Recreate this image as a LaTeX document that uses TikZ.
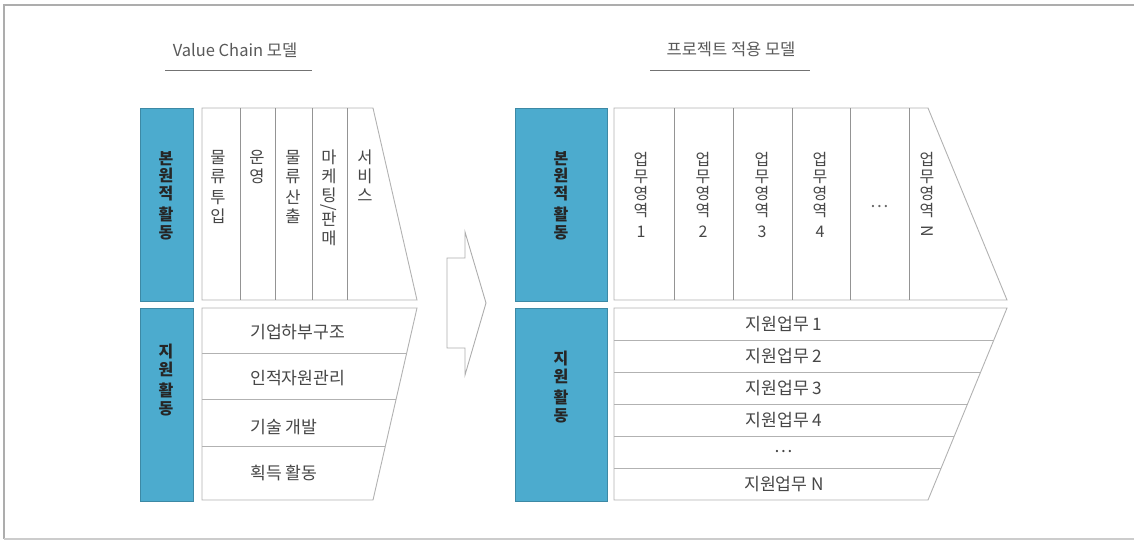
\documentclass[tikz,border=0pt]{standalone}
\usepackage{fontspec}
\usepackage{graphicx}
\setmainfont{Noto Sans CJK KR}
\definecolor{vcblue}{RGB}{76,171,206}

\begin{document}
\begin{tikzpicture}[
    x=1pt, y=-1pt,
    frame/.style     = {line width=2pt, black!32},
    band/.style      = {fill=vcblue, draw=vcblue!80!black, line width=0.5pt},
    cell/.style      = {draw=black!30, line width=0.9pt, fill=white},
    sep/.style       = {draw=black!42, line width=0.9pt},
    title/.style     = {font=\fontsize{16.5}{19}\selectfont, text=black!65, inner sep=0pt},
    titleline/.style = {line width=0.9pt, black!55},
    vtxt/.style      = {align=center, anchor=north, inner sep=0pt, text=black!72,
                        font=\fontsize{16.5}{19}\selectfont},
    vbold/.style     = {vtxt, text=black!85, font=\bfseries\fontsize{16}{17.5}\selectfont},
    htxt/.style      = {inner sep=0pt, text=black!72, font=\fontsize{17.2}{19}\selectfont},
    bigarrow/.style  = {draw=black!32, line width=0.9pt, fill=white},
  ]

  \useasboundingbox (0,0) rectangle (1134,541);

  % --- outer frame (open on the right) -------------------------------------
  \draw[frame] (1134,5) -- (4,5) -- (4,539);
  \draw[frame, black!20] (4,539) -- (1134,539);

  % --- titles ---------------------------------------------------------------
  \node[title] (vctitle) at (235,50) {Value Chain 모델};
  \draw[titleline] (165,70) -- (312,70);
  \node[title] (pjtitle) at (731,49) {프로젝트 적용 모델};
  \draw[titleline] (650,70) -- (810,70);

  % =========================================================================
  % left: value chain model
  % =========================================================================
  \draw[band] (140,108) rectangle (193,301);
  \draw[band] (140,308) rectangle (193,501);
  \node[vbold] (vcprim) at (166,151) {본\\원\\적\\[4pt]활\\동};
  \node[vbold] (vcsupp) at (166,344) {지\\원\\[4pt]활\\동};

  % --- primary activities ---------------------------------------------------
  \draw[cell] (202,108) -- (373,108) -- (417,300) -- (202,300) -- cycle;
  \foreach \x in {240, 275, 312, 347} {
    \draw[sep] (\x,108) -- (\x,300);
  }
  \foreach \x/\txt [count=\i] in {
      218/{물\\류\\[2pt]투\\입},
      257/{운\\영},
      293/{물\\류\\[2pt]산\\출},
      329/{마\\케\\팅\\[-8pt]\rotatebox[origin=c]{-90}{/}\\[-6pt]판\\매},
      365/{서\\비\\스}} {
    \node[vtxt] (vcp\i) at (\x,150) {\txt};
  }

  % --- support activities ---------------------------------------------------
  \draw[cell] (202,308) -- (417,308) -- (373,500) -- (202,500) -- cycle;
  \foreach \y in {353, 399, 446} {
    \draw[cell] (202,\y) -- ({417-(\y-308)*44/192},\y);
  }
  \foreach \y/\txt [count=\i] in {332/기업하부구조, 378/인적자원관리,
                                  427/기술 개발, 473/획득 활동} {
    \node[htxt, anchor=west] (vcs\i) at (250,\y) {\txt};
  }

  % --- transition arrow -----------------------------------------------------
  \draw[bigarrow] (447,258) -- (465,258) -- (465,232) -- (486,303)
    -- (465,375) -- (465,348) -- (447,348) -- cycle;

  % =========================================================================
  % right: model applied to the project
  % =========================================================================
  \draw[band] (515,108) rectangle (607,301);
  \draw[band] (515,308) rectangle (607,501);
  \node[vbold] (pjprim) at (561,151) {본\\원\\적\\[4pt]활\\동};
  \node[vbold] (pjsupp) at (561,351) {지\\원\\[4pt]활\\동};

  % --- work areas -----------------------------------------------------------
  \draw[cell] (614,108) -- (928,108) -- (1007,300) -- (614,300) -- cycle;
  \foreach \x in {674, 733, 792, 850, 909} {
    \draw[sep] (\x,108) -- (\x,300);
  }
  \foreach \x/\n [count=\i] in {641/1, 703/2, 762/3, 820/4} {
    \node[vtxt, font=\fontsize{16}{17}\selectfont] (pjp\i)
      at (\x,152) {업\\무\\영\\역\\[4pt]\n};
  }
  \node[htxt, text=black!60] (pjdots) at (880,207) {…};
  \node[vtxt, font=\fontsize{16}{17}\selectfont] (pjpN)
    at (927,152) {업\\무\\영\\역\\[4pt]\rotatebox[origin=c]{-90}{N}};

  % --- support work ---------------------------------------------------------
  \draw[cell] (614,308) -- (1007,308) -- (928,500) -- (614,500) -- cycle;
  \foreach \k in {1,...,5} {
    \draw[cell] (614,308+32*\k) -- ({1007-32*\k*79/192},308+32*\k);
  }
  \foreach \txt [count=\i] in {지원업무 1, 지원업무 2, 지원업무 3,
                               지원업무 4, …, 지원업무 N} {
    \node[htxt] (pjs\i) at (784,292+32*\i) {\txt};
  }

\end{tikzpicture}
\end{document}
